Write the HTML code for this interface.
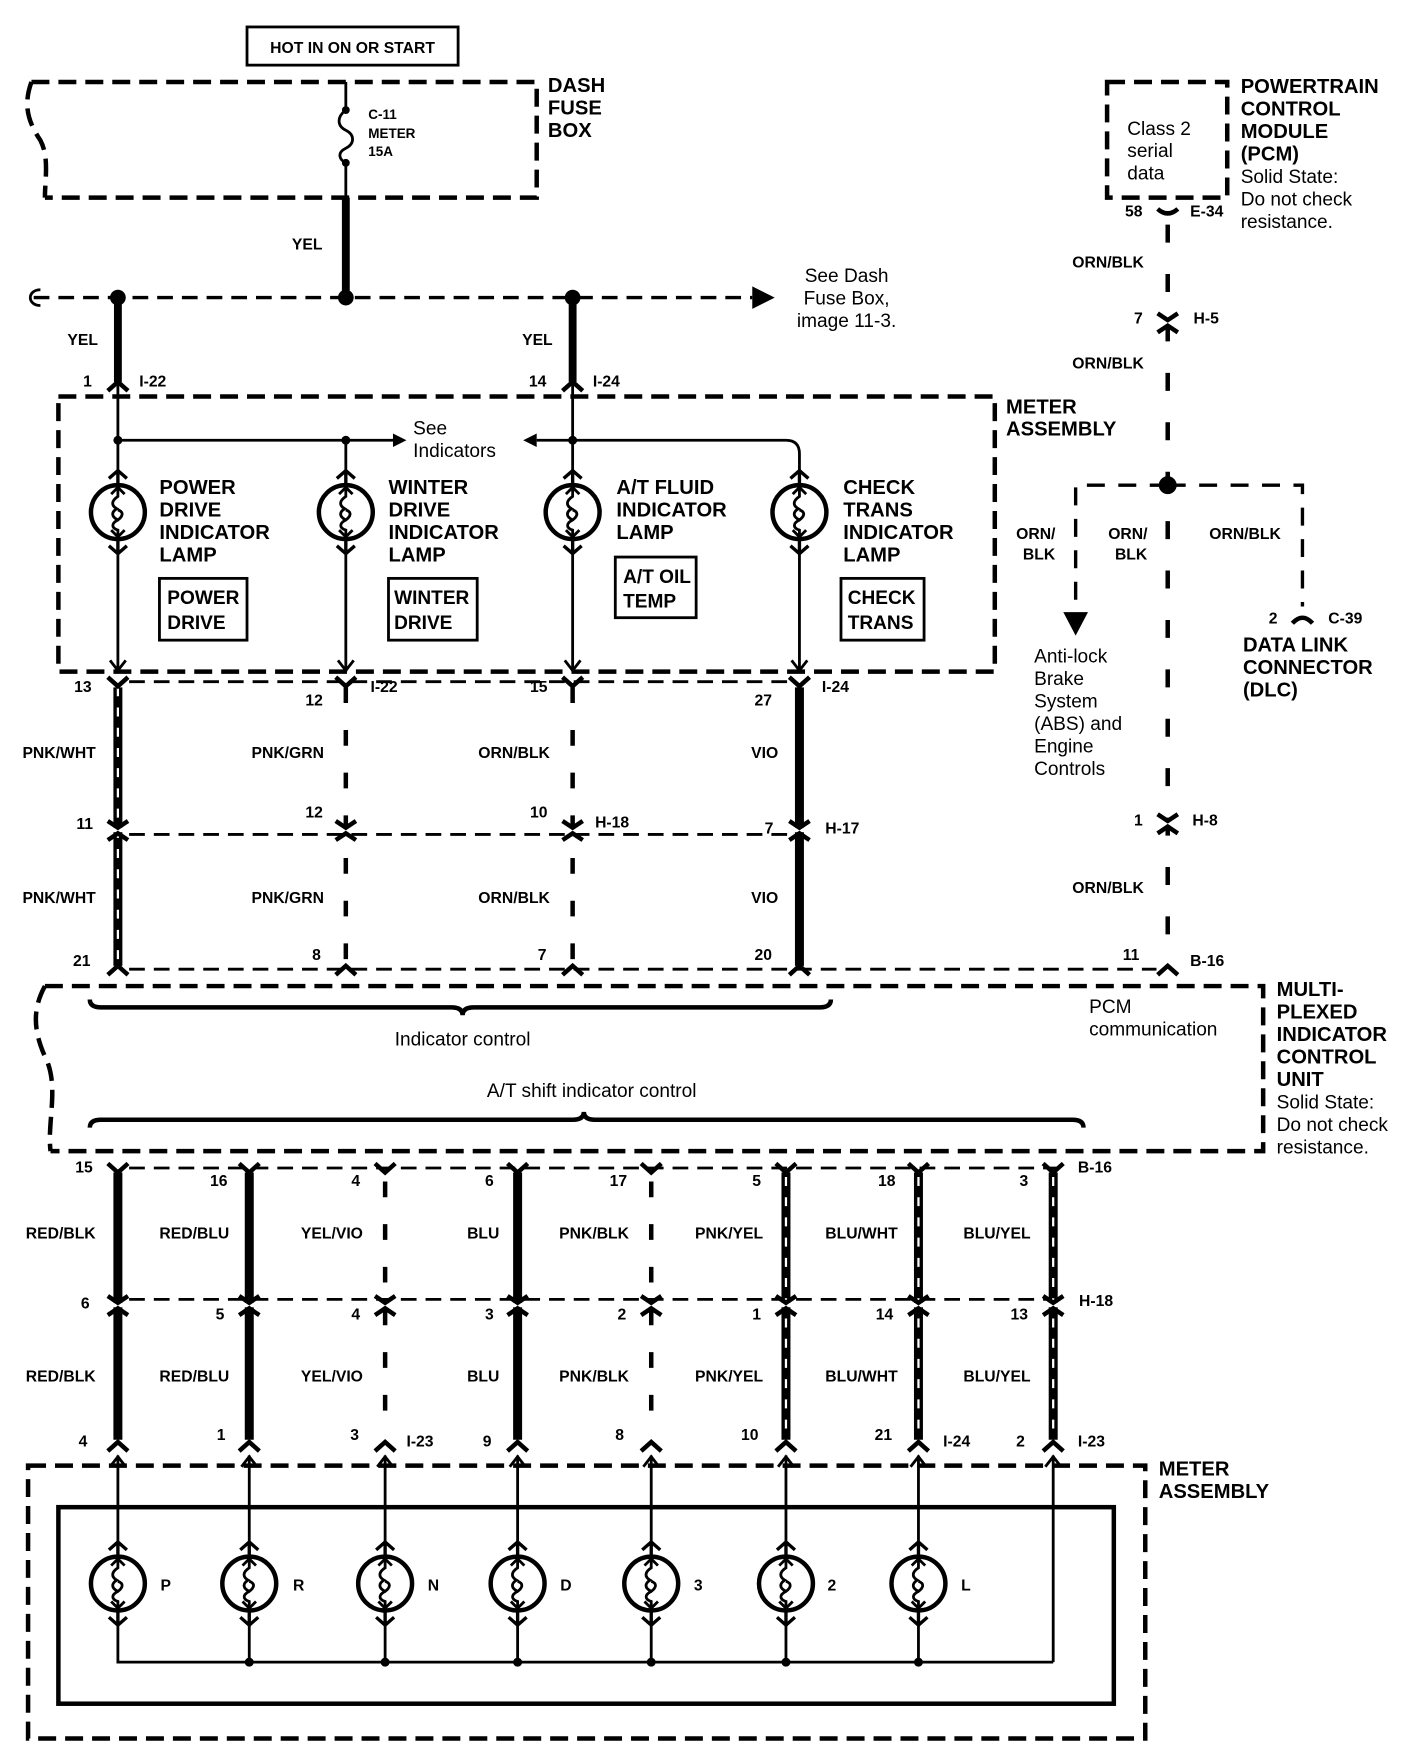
<!DOCTYPE html>
<html><head><meta charset="utf-8"><style>
html,body{margin:0;padding:0;background:#fff}
svg{display:block}
text{font-family:"Liberation Sans",Arial,sans-serif;fill:#000}
.b{font-weight:bold}
.w{font-weight:bold;font-size:14px}
.h{font-weight:bold;font-size:18px}
.n{font-size:17px}
</style></head><body>
<svg width="1408" height="1752" viewBox="0 0 1254 1560" preserveAspectRatio="none" xmlns="http://www.w3.org/2000/svg">
<defs>
<g id="lamp">
<circle cx="0" cy="0" r="24" fill="#fff" stroke="#000" stroke-width="4"/>
<path d="M0,-22 L0,-14 C-6,-10 -6,-6 -1,-3 C-6,0 -6,4 0,7 C4,4 6,0 0,-2 M0,7 C-6,10 -6,14 0,16 L0,22" fill="none" stroke="#000" stroke-width="2.5"/>
<path d="M-6,-16 L0,-22 L6,-16 M-6,16 L0,22 L6,16" fill="none" stroke="#000" stroke-width="2.5"/>
<path d="M-8,-30 L0,-37 L8,-30 M0,-37 L0,-24 M-8,30 L0,37 L8,30 M0,37 L0,24" fill="none" stroke="#000" stroke-width="3"/>
</g>
<g id="cn"><path d="M-9,6 L0,-2 L9,6" fill="none" stroke="#000" stroke-width="4"/></g>
<g id="cv"><path d="M-9,-6 L0,2 L9,-6" fill="none" stroke="#000" stroke-width="4"/></g>
<g id="dbl"><rect x="-10" y="-3" width="20" height="4" fill="#fff"/><path d="M-9,-9 L0,-3 L9,-9 M-9,8 L0,2 L9,8" fill="none" stroke="#000" stroke-width="4"/></g>
</defs>

<rect x="220" y="24" width="188" height="34" fill="none" stroke="#000" stroke-width="2.5"/>
<text x="314" y="47" class="b" font-size="14" text-anchor="middle">HOT IN ON OR START</text>

<g fill="none" stroke="#000" stroke-width="4" stroke-dasharray="16 8">
<path d="M28,73 L478,73 L478,176 L40,176"/>
<path d="M28,73 C20,95 26,110 36,125 C44,140 40,160 40,176"/>
</g>
<path d="M308,73 L308,98 C300,104 300,112 308,116 C316,120 316,128 308,132 C300,136 302,142 308,145 L308,176" fill="none" stroke="#000" stroke-width="2.5"/>
<circle cx="308" cy="98" r="3.5"/><circle cx="308" cy="145" r="3.5"/>
<text x="328" y="106" class="b" font-size="12">C-11</text>
<text x="328" y="123" class="b" font-size="12">METER</text>
<text x="328" y="139" class="b" font-size="12">15A</text>
<text x="488" y="82" class="h">DASH</text>
<text x="488" y="102" class="h">FUSE</text>
<text x="488" y="122" class="h">BOX</text>

<line x1="308" y1="176" x2="308" y2="265" stroke="#000" stroke-width="7"/>
<text x="260" y="222" class="w">YEL</text>
<path d="M30,265 L670,265" stroke="#000" stroke-width="3" stroke-dasharray="14 8" fill="none"/>
<path d="M36,258 C24,258 24,272 36,272" stroke="#000" stroke-width="2.5" fill="none"/>
<path d="M670,255 L690,265 L670,275 Z"/>
<circle cx="105" cy="265" r="7"/><circle cx="308" cy="265" r="7"/><circle cx="510" cy="265" r="7"/>
<text x="754" y="251" class="n" text-anchor="middle">See Dash</text>
<text x="754" y="271" class="n" text-anchor="middle">Fuse Box,</text>
<text x="754" y="291" class="n" text-anchor="middle">image 11-3.</text>

<line x1="105" y1="265" x2="105" y2="340" stroke="#000" stroke-width="7"/>
<line x1="510" y1="265" x2="510" y2="340" stroke="#000" stroke-width="7"/>
<text x="60" y="307" class="w">YEL</text><text x="465" y="307" class="w">YEL</text>
<use href="#cn" x="105" y="342"/><use href="#cn" x="510" y="342"/>
<text x="74" y="344" class="w">1</text><text x="124" y="344" class="w">I-22</text>
<text x="471" y="344" class="w">14</text><text x="528" y="344" class="w">I-24</text>

<rect x="52" y="353" width="834" height="245" fill="none" stroke="#000" stroke-width="4" stroke-dasharray="16 8"/>
<text x="896" y="368" class="h">METER</text>
<text x="896" y="388" class="h">ASSEMBLY</text>
<g stroke="#000" stroke-width="2.5" fill="none">
<line x1="105" y1="342" x2="105" y2="420"/>
<line x1="510" y1="342" x2="510" y2="420"/>
<line x1="105" y1="392" x2="352" y2="392"/>
<line x1="478" y1="392" x2="700" y2="392"/>
<path d="M700,392 Q712,392 712,404 L712,420"/>
<line x1="308" y1="392" x2="308" y2="420"/>
<line x1="105" y1="492" x2="105" y2="598"/>
<line x1="308" y1="492" x2="308" y2="598"/>
<line x1="510" y1="492" x2="510" y2="598"/>
<line x1="712" y1="492" x2="712" y2="598"/>
<path d="M98,588 L105,597 L112,588 M301,588 L308,597 L315,588 M503,588 L510,597 L517,588 M705,588 L712,597 L719,588"/>
</g>
<path d="M350,386 L362,392 L350,398 Z"/><path d="M478,386 L466,392 L478,398 Z"/>
<circle cx="105" cy="392" r="4"/><circle cx="308" cy="392" r="4"/><circle cx="510" cy="392" r="4"/>
<text x="368" y="387" class="n">See</text><text x="368" y="407" class="n">Indicators</text>
<use href="#lamp" x="105" y="456"/><use href="#lamp" x="308" y="456"/><use href="#lamp" x="510" y="456"/><use href="#lamp" x="712" y="456"/>
<g class="h">
<text x="142" y="440">POWER</text><text x="142" y="460">DRIVE</text><text x="142" y="480">INDICATOR</text><text x="142" y="500">LAMP</text>
<text x="346" y="440">WINTER</text><text x="346" y="460">DRIVE</text><text x="346" y="480">INDICATOR</text><text x="346" y="500">LAMP</text>
<text x="549" y="440">A/T FLUID</text><text x="549" y="460">INDICATOR</text><text x="549" y="480">LAMP</text>
<text x="751" y="440">CHECK</text><text x="751" y="460">TRANS</text><text x="751" y="480">INDICATOR</text><text x="751" y="500">LAMP</text>
</g>
<g fill="none" stroke="#000" stroke-width="2.5">
<rect x="142" y="515" width="78" height="55"/><rect x="346" y="515" width="79" height="55"/>
<rect x="548" y="496" width="72" height="54"/><rect x="749" y="515" width="74" height="55"/>
</g>
<g class="b" font-size="17">
<text x="149" y="538">POWER</text><text x="149" y="560">DRIVE</text>
<text x="351" y="538">WINTER</text><text x="351" y="560">DRIVE</text>
<text x="555" y="519">A/T OIL</text><text x="555" y="541">TEMP</text>
<text x="755" y="538">CHECK</text><text x="755" y="560">TRANS</text>
</g>

<g fill="none" stroke="#000">
<line x1="115" y1="607" x2="705" y2="607" stroke-width="2.5" stroke-dasharray="14 8"/>
<line x1="115" y1="743" x2="705" y2="743" stroke-width="2.5" stroke-dasharray="14 8"/>
<line x1="115" y1="863" x2="1030" y2="863" stroke-width="2.5" stroke-dasharray="14 8"/>
<line x1="105" y1="612" x2="105" y2="860" stroke-width="8"/>
<line x1="105" y1="612" x2="105" y2="860" stroke="#fff" stroke-width="2" stroke-dasharray="8 10"/>
<line x1="308" y1="612" x2="308" y2="860" stroke-width="4" stroke-dasharray="14 24"/>
<line x1="510" y1="612" x2="510" y2="860" stroke-width="4" stroke-dasharray="14 24"/>
<line x1="712" y1="612" x2="712" y2="860" stroke-width="8"/>
</g>
<use href="#cv" x="105" y="609"/><use href="#cv" x="308" y="609"/><use href="#cv" x="510" y="609"/><use href="#cv" x="712" y="609"/>
<use href="#dbl" x="105" y="740"/><use href="#dbl" x="308" y="740"/><use href="#dbl" x="510" y="740"/><use href="#dbl" x="712" y="740"/>
<use href="#cn" x="105" y="862"/><use href="#cn" x="308" y="862"/><use href="#cn" x="510" y="862"/><use href="#cn" x="712" y="862"/><use href="#cn" x="1040" y="862"/>
<g class="w">
<text x="66" y="616">13</text><text x="272" y="628">12</text><text x="330" y="616">I-22</text><text x="472" y="616">15</text><text x="672" y="628">27</text><text x="732" y="616">I-24</text>
<text x="20" y="675">PNK/WHT</text><text x="224" y="675">PNK/GRN</text><text x="426" y="675">ORN/BLK</text><text x="669" y="675">VIO</text>
<text x="68" y="738">11</text><text x="272" y="728">12</text><text x="472" y="728">10</text><text x="530" y="737">H-18</text><text x="681" y="742">7</text><text x="735" y="742">H-17</text>
<text x="20" y="804">PNK/WHT</text><text x="224" y="804">PNK/GRN</text><text x="426" y="804">ORN/BLK</text><text x="669" y="804">VIO</text>
<text x="65" y="860">21</text><text x="278" y="855">8</text><text x="479" y="855">7</text><text x="672" y="855">20</text><text x="1000" y="855">11</text><text x="1060" y="860">B-16</text>
</g>

<g fill="none" stroke="#000" stroke-width="4" stroke-dasharray="16 8">
<path d="M40,878 L1125,878 L1125,1025 L45,1025"/>
<path d="M40,878 C28,900 30,920 42,945 C52,970 42,1000 45,1025"/>
</g>
<g fill="none" stroke="#000" stroke-width="4">
<path d="M80,890 Q80,897 90,897 L402,897 Q412,897 412,904 Q412,897 422,897 L730,897 Q740,897 740,890"/>
<path d="M80,1004 Q80,997 90,997 L510,997 Q520,997 520,990 Q520,997 530,997 L955,997 Q965,997 965,1004"/>
</g>
<text x="412" y="931" class="n" text-anchor="middle">Indicator control</text>
<text x="527" y="977" class="n" text-anchor="middle">A/T shift indicator control</text>
<text x="970" y="902" class="n">PCM</text><text x="970" y="922" class="n">communication</text>
<g class="h"><text x="1137" y="887">MULTI-</text><text x="1137" y="907">PLEXED</text><text x="1137" y="927">INDICATOR</text><text x="1137" y="947">CONTROL</text><text x="1137" y="967">UNIT</text></g>
<text x="1137" y="987" class="n">Solid State:</text><text x="1137" y="1007" class="n">Do not check</text><text x="1137" y="1027" class="n">resistance.</text>

<path d="M986,73 L1093,73 L1093,176 L986,176 Z" fill="none" stroke="#000" stroke-width="4" stroke-dasharray="16 8"/>
<text x="1004" y="120" class="n">Class 2</text><text x="1004" y="140" class="n">serial</text><text x="1004" y="160" class="n">data</text>
<g class="h"><text x="1105" y="83">POWERTRAIN</text><text x="1105" y="103">CONTROL</text><text x="1105" y="123">MODULE</text><text x="1105" y="143">(PCM)</text></g>
<text x="1105" y="163" class="n">Solid State:</text><text x="1105" y="183" class="n">Do not check</text><text x="1105" y="203" class="n">resistance.</text>
<g fill="none" stroke="#000" stroke-width="4">
<path d="M1031,186 Q1040,194 1049,186"/>
<line x1="1040" y1="200" x2="1040" y2="850" stroke-dasharray="16 28"/>
<path d="M1040,432 L958,432 L958,545" stroke-width="3" stroke-dasharray="16 12"/>
<path d="M1040,432 L1160,432 L1160,540" stroke-width="3" stroke-dasharray="16 12"/>
<path d="M1151,555 Q1160,545 1169,555"/>
</g>
<use href="#dbl" x="1040" y="288"/><use href="#dbl" x="1040" y="734"/>
<circle cx="1040" cy="432" r="8"/>
<path d="M947,545 L969,545 L958,566 Z"/>
<g class="w">
<text x="1002" y="193">58</text><text x="1060" y="193">E-34</text>
<text x="955" y="238">ORN/BLK</text><text x="1010" y="288">7</text><text x="1063" y="288">H-5</text><text x="955" y="328">ORN/BLK</text>
<text x="905" y="480">ORN/</text><text x="911" y="498">BLK</text><text x="987" y="480">ORN/</text><text x="993" y="498">BLK</text><text x="1077" y="480">ORN/BLK</text>
<text x="1130" y="555">2</text><text x="1183" y="555">C-39</text>
<text x="1010" y="735">1</text><text x="1062" y="735">H-8</text><text x="955" y="795">ORN/BLK</text>
</g>
<g class="h"><text x="1107" y="580">DATA LINK</text><text x="1107" y="600">CONNECTOR</text><text x="1107" y="620">(DLC)</text></g>
<g class="n"><text x="921" y="590">Anti-lock</text><text x="921" y="610">Brake</text><text x="921" y="630">System</text><text x="921" y="650">(ABS) and</text><text x="921" y="670">Engine</text><text x="921" y="690">Controls</text></g>

<g fill="none" stroke="#000">
<line x1="115" y1="1040" x2="950" y2="1040" stroke-width="2.5" stroke-dasharray="14 8"/>
<line x1="115" y1="1157" x2="950" y2="1157" stroke-width="2.5" stroke-dasharray="14 8"/>
<g stroke-width="8"><line x1="105" y1="1044" x2="105" y2="1282"/><line x1="222" y1="1044" x2="222" y2="1282"/><line x1="461" y1="1044" x2="461" y2="1282"/>
<line x1="700" y1="1044" x2="700" y2="1282"/><line x1="818" y1="1044" x2="818" y2="1282"/><line x1="938" y1="1044" x2="938" y2="1282"/></g>
<g stroke="#fff" stroke-width="2" stroke-dasharray="8 10"><line x1="700" y1="1048" x2="700" y2="1280"/><line x1="818" y1="1048" x2="818" y2="1280"/><line x1="938" y1="1048" x2="938" y2="1280"/></g>
<g stroke-width="4" stroke-dasharray="14 24"><line x1="343" y1="1052" x2="343" y2="1280"/><line x1="580" y1="1052" x2="580" y2="1280"/></g>
</g>
<g>
<use href="#cv" x="105" y="1042"/><use href="#cv" x="222" y="1042"/><use href="#cv" x="343" y="1042"/><use href="#cv" x="461" y="1042"/><use href="#cv" x="580" y="1042"/><use href="#cv" x="700" y="1042"/><use href="#cv" x="818" y="1042"/><use href="#cv" x="938" y="1042"/>
<use href="#dbl" x="105" y="1163"/><use href="#dbl" x="222" y="1163"/><use href="#dbl" x="343" y="1163"/><use href="#dbl" x="461" y="1163"/><use href="#dbl" x="580" y="1163"/><use href="#dbl" x="700" y="1163"/><use href="#dbl" x="818" y="1163"/><use href="#dbl" x="938" y="1163"/>
<use href="#cn" x="105" y="1286"/><use href="#cn" x="222" y="1286"/><use href="#cn" x="343" y="1286"/><use href="#cn" x="461" y="1286"/><use href="#cn" x="580" y="1286"/><use href="#cn" x="700" y="1286"/><use href="#cn" x="818" y="1286"/><use href="#cn" x="938" y="1286"/>
</g>
<g class="w">
<text x="67" y="1044">15</text><text x="187" y="1056">16</text><text x="313" y="1056">4</text><text x="432" y="1056">6</text><text x="543" y="1056">17</text><text x="670" y="1056">5</text><text x="782" y="1056">18</text><text x="908" y="1056">3</text><text x="960" y="1044">B-16</text>
<text x="23" y="1103">RED/BLK</text><text x="142" y="1103">RED/BLU</text><text x="268" y="1103">YEL/VIO</text><text x="416" y="1103">BLU</text><text x="498" y="1103">PNK/BLK</text><text x="619" y="1103">PNK/YEL</text><text x="735" y="1103">BLU/WHT</text><text x="858" y="1103">BLU/YEL</text>
<text x="72" y="1165">6</text><text x="192" y="1175">5</text><text x="313" y="1175">4</text><text x="432" y="1175">3</text><text x="550" y="1175">2</text><text x="670" y="1175">1</text><text x="780" y="1175">14</text><text x="900" y="1175">13</text><text x="961" y="1163">H-18</text>
<text x="23" y="1230">RED/BLK</text><text x="142" y="1230">RED/BLU</text><text x="268" y="1230">YEL/VIO</text><text x="416" y="1230">BLU</text><text x="498" y="1230">PNK/BLK</text><text x="619" y="1230">PNK/YEL</text><text x="735" y="1230">BLU/WHT</text><text x="858" y="1230">BLU/YEL</text>
<text x="70" y="1288">4</text><text x="193" y="1282">1</text><text x="312" y="1282">3</text><text x="362" y="1288">I-23</text><text x="430" y="1288">9</text><text x="548" y="1282">8</text><text x="660" y="1282">10</text><text x="779" y="1282">21</text><text x="840" y="1288">I-24</text><text x="905" y="1288">2</text><text x="960" y="1288">I-23</text>
</g>

<rect x="25" y="1305" width="995" height="243" fill="none" stroke="#000" stroke-width="4" stroke-dasharray="16 8"/>
<text x="1032" y="1314" class="h">METER</text><text x="1032" y="1334" class="h">ASSEMBLY</text>
<rect x="52" y="1342" width="940" height="175" fill="none" stroke="#000" stroke-width="4"/>
<g fill="none" stroke="#000" stroke-width="2.5">
<path d="M105,1296 L105,1374 M222,1296 L222,1374 M343,1296 L343,1374 M461,1296 L461,1374 M580,1296 L580,1374 M700,1296 L700,1374 M818,1296 L818,1374 M938,1296 L938,1480"/>
<path d="M98,1306 L105,1297 L112,1306 M215,1306 L222,1297 L229,1306 M336,1306 L343,1297 L350,1306 M454,1306 L461,1297 L468,1306 M573,1306 L580,1297 L587,1306 M693,1306 L700,1297 L707,1306 M811,1306 L818,1297 L825,1306 M931,1306 L938,1297 L945,1306"/>
<path d="M105,1446 L105,1480 L938,1480 M222,1446 L222,1480 M343,1446 L343,1480 M461,1446 L461,1480 M580,1446 L580,1480 M700,1446 L700,1480 M818,1446 L818,1480"/>
</g>
<use href="#lamp" x="105" y="1410"/><use href="#lamp" x="222" y="1410"/><use href="#lamp" x="343" y="1410"/><use href="#lamp" x="461" y="1410"/><use href="#lamp" x="580" y="1410"/><use href="#lamp" x="700" y="1410"/><use href="#lamp" x="818" y="1410"/>
<circle cx="222" cy="1480" r="4"/><circle cx="343" cy="1480" r="4"/><circle cx="461" cy="1480" r="4"/><circle cx="580" cy="1480" r="4"/><circle cx="700" cy="1480" r="4"/><circle cx="818" cy="1480" r="4"/>
<g class="w"><text x="143" y="1416">P</text><text x="261" y="1416">R</text><text x="381" y="1416">N</text><text x="499" y="1416">D</text><text x="618" y="1416">3</text><text x="737" y="1416">2</text><text x="856" y="1416">L</text></g>
</svg>
</body></html>
